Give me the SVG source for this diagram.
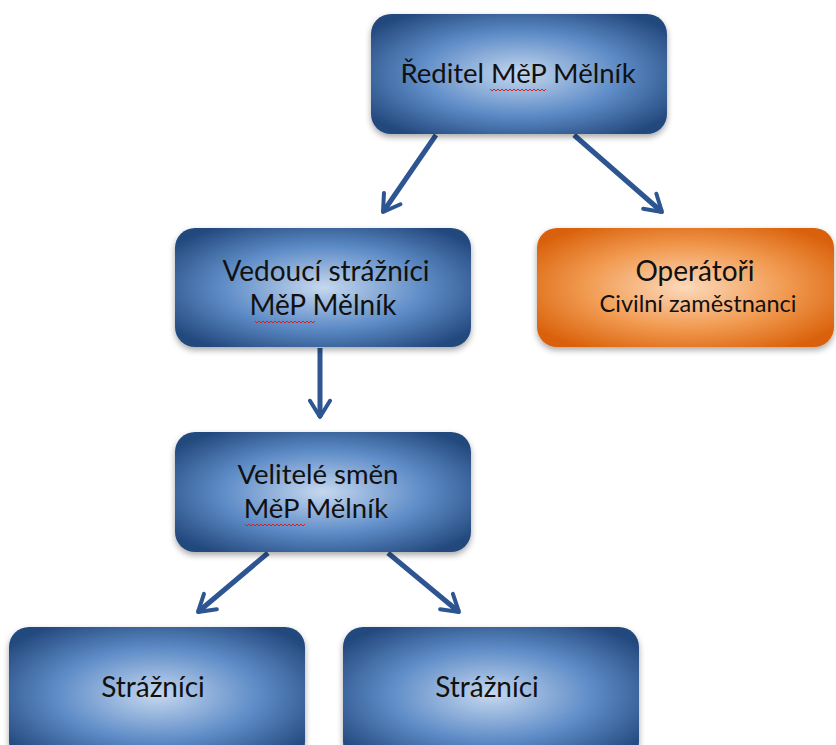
<svg xmlns="http://www.w3.org/2000/svg" width="836" height="745" viewBox="0 0 836 745">
<defs>
<radialGradient id="gb" cx="50%" cy="50%" r="62%">
<stop offset="0" stop-color="#c6d8ef"/>
<stop offset="0.55" stop-color="#5e8cc7"/>
<stop offset="1" stop-color="#24497e"/>
</radialGradient>
<radialGradient id="go" cx="50%" cy="50%" r="62%">
<stop offset="0" stop-color="#fcd9bb"/>
<stop offset="0.55" stop-color="#f19a50"/>
<stop offset="1" stop-color="#d9600a"/>
</radialGradient>
<filter id="sh" x="-10%" y="-10%" width="120%" height="130%">
<feDropShadow dx="0" dy="3" stdDeviation="3" flood-color="#000" flood-opacity="0.35"/>
</filter>
<marker id="ah" viewBox="0 0 10 10" refX="8" refY="5" markerWidth="5" markerHeight="5" orient="auto" markerUnits="strokeWidth">
<path d="M1.5,1 L8,5 L1.5,9" fill="none" stroke="#2c5592" stroke-width="1.6" stroke-linecap="round" stroke-linejoin="round"/>
</marker>
</defs>
<style>
.b{fill:url(#gb);filter:url(#sh)}
.o{fill:url(#go);filter:url(#sh)}
.t{font-family:Lato,"Open Sans",sans-serif;fill:#111;text-anchor:middle}
.c{stroke:#2c5592;stroke-width:5;fill:none;marker-end:url(#ah)}
.sq{fill:none;stroke:#d62020;stroke-width:1}
</style>
<g id="connectors">
<line class="c" x1="436" y1="135" x2="383" y2="212"/>
<line class="c" x1="574" y1="135" x2="662" y2="212"/>
<line class="c" x1="320" y1="348" x2="320" y2="417"/>
<line class="c" x1="268" y1="553" x2="198" y2="612"/>
<line class="c" x1="388" y1="553" x2="459" y2="612"/>
</g>
<g id="reditel">
<rect class="b" x="371" y="14" width="296" height="120" rx="20"/>
<text class="t" x="518" y="83" font-size="27.5">Ředitel MěP Mělník</text>
<path class="sq" d="M490,89 l2,2 l2,-2 l2,2 l2,-2 l2,2 l2,-2 l2,2 l2,-2 l2,2 l2,-2 l2,2 l2,-2 l2,2 l2,-2 l2,2 l2,-2 l2,2 l2,-2 l2,2 l2,-2 l2,2 l2,-2 l2,2 l2,-2 l2,2 l2,-2 l2,2 l2,-2"/>
</g>
<g id="vedouci">
<rect class="b" x="175" y="228" width="296" height="119" rx="20"/>
<text class="t" x="326" y="281" font-size="28">Vedoucí strážníci</text>
<text class="t" x="323" y="315" font-size="28">MěP Mělník</text>
<path class="sq" d="M255,321 l2,2 l2,-2 l2,2 l2,-2 l2,2 l2,-2 l2,2 l2,-2 l2,2 l2,-2 l2,2 l2,-2 l2,2 l2,-2 l2,2 l2,-2 l2,2 l2,-2 l2,2 l2,-2 l2,2 l2,-2 l2,2 l2,-2 l2,2 l2,-2 l2,2 l2,-2 l2,2 l2,-2"/>
</g>
<g id="operatori">
<rect class="o" x="537" y="228" width="297" height="119" rx="20"/>
<text class="t" x="695" y="281" font-size="28">Operátoři</text>
<text class="t" x="698" y="312" font-size="23.5">Civilní zaměstnanci</text>
</g>
<g id="velitele">
<rect class="b" x="175" y="432" width="296" height="120" rx="20"/>
<text class="t" x="318" y="484" font-size="27.5">Velitelé směn</text>
<text class="t" x="316" y="518" font-size="27.5">MěP Mělník</text>
<path class="sq" d="M245,524 l2,2 l2,-2 l2,2 l2,-2 l2,2 l2,-2 l2,2 l2,-2 l2,2 l2,-2 l2,2 l2,-2 l2,2 l2,-2 l2,2 l2,-2 l2,2 l2,-2 l2,2 l2,-2 l2,2 l2,-2 l2,2 l2,-2 l2,2 l2,-2 l2,2 l2,-2 l2,2 l2,-2"/>
</g>
<g id="straznici1">
<rect class="b" x="9" y="627" width="296" height="135" rx="20"/>
<text class="t" x="153" y="697" font-size="28">Strážníci</text>
</g>
<g id="straznici2">
<rect class="b" x="343" y="627" width="296" height="135" rx="20"/>
<text class="t" x="487" y="697" font-size="28">Strážníci</text>
</g>
</svg>
